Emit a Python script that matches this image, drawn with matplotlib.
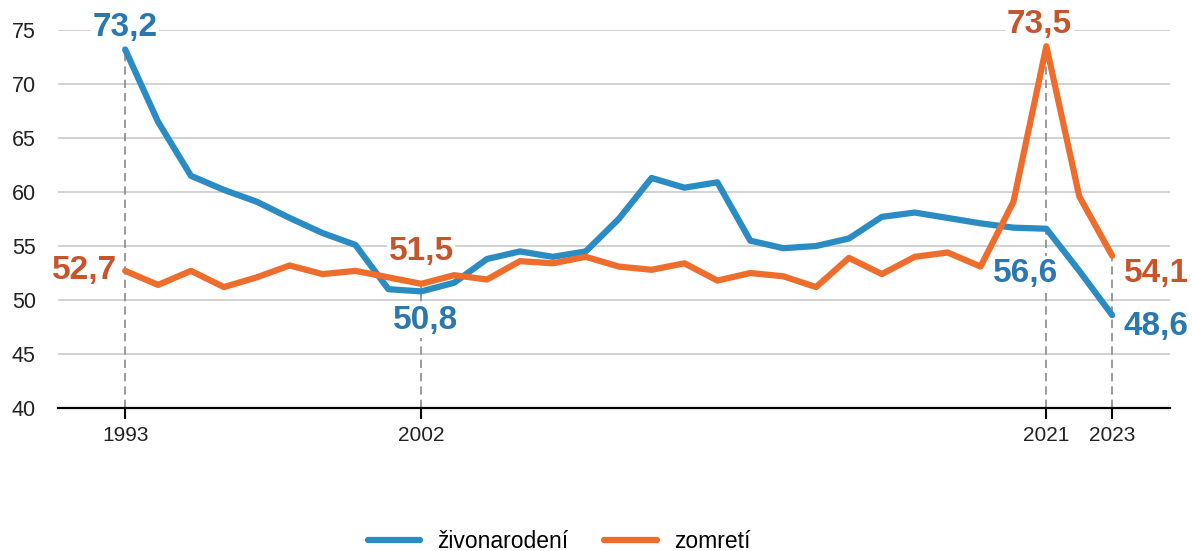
import matplotlib
matplotlib.use("Agg")
import matplotlib.pyplot as plt

plt.rcParams['font.family'] = ['Liberation Sans', 'DejaVu Sans']

# roky 1993 - 2023
roky = list(range(1993, 2024))

zivonarodeni = [73.2, 66.5, 61.5, 60.2, 59.1, 57.6, 56.2, 55.1, 51.0, 50.8,
                51.6, 53.8, 54.5, 54.0, 54.5, 57.5, 61.3, 60.4, 60.9, 55.5,
                54.8, 55.0, 55.7, 57.7, 58.1, 57.6, 57.1, 56.7, 56.6, 52.7,
                48.6]
zomreti = [52.7, 51.4, 52.7, 51.2, 52.1, 53.2, 52.4, 52.7, 52.1, 51.5,
           52.3, 51.9, 53.6, 53.4, 54.0, 53.1, 52.8, 53.4, 51.8, 52.5,
           52.2, 51.2, 53.9, 52.4, 54.0, 54.4, 53.1, 59.1, 73.5, 59.6,
           54.1]

vyznacene_roky = [1993, 2002, 2021, 2023]
yticks = [40, 45, 50, 55, 60, 65, 70, 75]

modra = '#2b8cc4'
oranzova = '#ee6d2c'
modra_text = '#2a78ae'
oranzova_text = '#c6552c'

fig = plt.figure(figsize=(11.92, 5.51), dpi=100)
ax = fig.add_axes([0.0487, 0.2595, 0.9329, 0.686])

ax.set_xlim(1990.96, 2024.76)
ax.set_ylim(40, 75)
ax.set_yticks(yticks)
ax.set_yticklabels([str(v) for v in yticks])
ax.set_xticks(vyznacene_roky)
ax.set_xticklabels([str(r) for r in vyznacene_roky])

for y in yticks[1:]:
    ax.axhline(y, color='#cfcfcf', lw=1.3, zorder=1)

for s in ['top', 'right', 'left']:
    ax.spines[s].set_visible(False)
ax.spines['bottom'].set_linewidth(1.6)
ax.spines['bottom'].set_zorder(5)
ax.tick_params(axis='y', length=0, pad=16, labelsize=15.5, labelcolor='#222222')
ax.tick_params(axis='x', length=8, width=1.5, pad=5, labelsize=15, labelcolor='#222222')

# prerusovane ciary
for r in vyznacene_roky:
    i = roky.index(r)
    top = max(zivonarodeni[i], zomreti[i])
    ax.plot([r, r], [40, top], color='#8a8a8a', lw=1.2, ls=(0, (5, 3)), zorder=2)

ax.plot(roky, zivonarodeni, color=modra, lw=4.5, solid_capstyle='round',
        solid_joinstyle='round', label='živonarodení', zorder=3, clip_on=False)
ax.plot(roky, zomreti, color=oranzova, lw=4.5, solid_capstyle='round',
        solid_joinstyle='round', label='zomretí', zorder=3, clip_on=False)


def popis(rok, hodnoty, farba, dx, dy, ha, va='center'):
    v = hodnoty[roky.index(rok)]
    ax.annotate(f'{v:.1f}'.replace('.', ','), (rok, v), xytext=(dx, dy),
                textcoords='offset points', ha=ha, va=va, color=farba,
                fontsize=24, fontweight='bold', zorder=6,
                bbox=dict(boxstyle='square,pad=0.05', fc='white', ec='none'))


popis(1993, zivonarodeni, modra_text, 0, 16, 'center')
popis(1993, zomreti, oranzova_text, -6, 0, 'right')
popis(2002, zomreti, oranzova_text, 0, 23, 'center')
popis(2002, zivonarodeni, modra_text, 3, -21, 'center')
popis(2021, zomreti, oranzova_text, -5, 15.5, 'center')
popis(2021, zivonarodeni, modra_text, -15, -32, 'center')
popis(2023, zomreti, oranzova_text, 8.5, -12.5, 'left')
popis(2023, zivonarodeni, modra_text, 8, -8.5, 'left')

fig.legend(loc='center', bbox_to_anchor=(0.469, 0.017), ncol=2, frameon=False,
           fontsize=16.5, handlelength=2.3, handletextpad=0.75, columnspacing=1.55)

fig.savefig('out.png', dpi=100)
